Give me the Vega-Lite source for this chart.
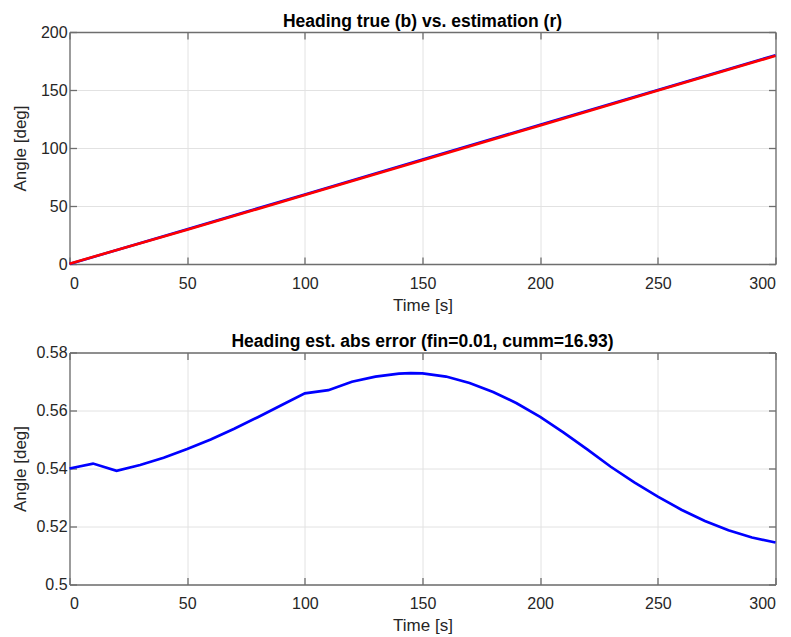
{
  "$schema": "https://vega.github.io/schema/vega-lite/v6.json",
  "background": "white",
  "padding": {"left": 10.5, "top": 12, "right": 5, "bottom": 0},
  "spacing": 19.5,
  "config": {
    "font": "Liberation Sans",
    "view": {"stroke": null},
    "axis": {
      "labelFontSize": 16,
      "labelColor": "#262626",
      "titleFontSize": 17,
      "titleFontWeight": "normal",
      "titleColor": "#262626",
      "domainColor": "#6e6e6e",
      "domainWidth": 1.3,
      "tickColor": "#6e6e6e",
      "tickWidth": 1.3,
      "tickSize": -7,
      "gridColor": "#e2e2e2",
      "gridWidth": 1
    },
    "title": {"fontSize": 17.5, "fontWeight": "bold", "color": "#000000", "baseline": "alphabetic", "offset": -6, "frame": "group", "anchor": "middle"}
  },
  "vconcat": [
    {
      "width": 706,
      "height": 232,
      "title": "Heading true (b) vs. estimation (r)",
      "data": {"values": [
        {"t": 0, "truth": 0, "est": 0.3},
        {"t": 50, "truth": 30, "est": 29.5},
        {"t": 100, "truth": 60, "est": 59.45},
        {"t": 150, "truth": 90, "est": 89.43},
        {"t": 200, "truth": 120, "est": 119.45},
        {"t": 250, "truth": 150, "est": 149.47},
        {"t": 300, "truth": 180, "est": 179.49}
      ]},
      "layer": [
        {
          "mark": {"type": "line", "color": "#0000ff", "strokeWidth": 2.6},
          "encoding": {
            "x": {"field": "t", "type": "quantitative", "scale": {"domain": [0, 300], "nice": false},
                  "axis": {"orient": "bottom", "values": [0, 50, 100, 150, 200, 250, 300], "title": "Time [s]", "labelPadding": 18.2, "titleY": 33, "titleBaseline": "top", "grid": true}},
            "y": {"field": "truth", "type": "quantitative", "scale": {"domain": [0, 200], "nice": false},
                  "axis": {"orient": "left", "values": [0, 50, 100, 150, 200], "title": "Angle [deg]", "labelPadding": 9.4, "titleX": -40.5, "grid": true}}
          }
        },
        {
          "mark": {"type": "line", "color": "#ff0000", "strokeWidth": 2.6},
          "encoding": {
            "x": {"field": "t", "type": "quantitative",
                  "axis": {"orient": "top", "values": [0, 50, 100, 150, 200, 250, 300], "labels": false, "title": null, "grid": false}},
            "y": {"field": "est", "type": "quantitative",
                  "axis": {"orient": "right", "values": [0, 50, 100, 150, 200], "labels": false, "title": null, "grid": false}}
          }
        }
      ],
      "resolve": {"axis": {"x": "independent", "y": "independent"}}
    },
    {
      "width": 706,
      "height": 232,
      "title": "Heading est. abs error (fin=0.01, cumm=16.93)",
      "data": {"values": [
        {"t": 0, "err": 0.5400},
        {"t": 10, "err": 0.5417},
        {"t": 20, "err": 0.5392},
        {"t": 30, "err": 0.5412},
        {"t": 40, "err": 0.5437},
        {"t": 50, "err": 0.5467},
        {"t": 60, "err": 0.5500},
        {"t": 70, "err": 0.5537},
        {"t": 80, "err": 0.5577},
        {"t": 90, "err": 0.5618},
        {"t": 100, "err": 0.5659},
        {"t": 110, "err": 0.5670},
        {"t": 120, "err": 0.5699},
        {"t": 130, "err": 0.5717},
        {"t": 140, "err": 0.5727},
        {"t": 145, "err": 0.5729},
        {"t": 150, "err": 0.5728},
        {"t": 160, "err": 0.5717},
        {"t": 170, "err": 0.5695},
        {"t": 180, "err": 0.5664},
        {"t": 190, "err": 0.5625},
        {"t": 200, "err": 0.5578},
        {"t": 210, "err": 0.5524},
        {"t": 220, "err": 0.5466},
        {"t": 230, "err": 0.5406},
        {"t": 240, "err": 0.5352},
        {"t": 250, "err": 0.5303},
        {"t": 260, "err": 0.5258},
        {"t": 270, "err": 0.5219},
        {"t": 280, "err": 0.5187},
        {"t": 290, "err": 0.5162},
        {"t": 300, "err": 0.5145}
      ]},
      "layer": [
        {
          "mark": {"type": "line", "color": "#0000ff", "strokeWidth": 2.7},
          "encoding": {
            "x": {"field": "t", "type": "quantitative", "scale": {"domain": [0, 300], "nice": false},
                  "axis": {"orient": "bottom", "values": [0, 50, 100, 150, 200, 250, 300], "title": "Time [s]", "labelPadding": 18.2, "titleY": 33, "titleBaseline": "top", "grid": true}},
            "y": {"field": "err", "type": "quantitative", "scale": {"domain": [0.5, 0.58], "nice": false, "zero": false},
                  "axis": {"orient": "left", "values": [0.5, 0.52, 0.54, 0.56, 0.58], "format": "~g", "title": "Angle [deg]", "labelPadding": 9.4, "titleX": -40.5, "grid": true}}
          }
        },
        {
          "mark": {"type": "line", "strokeOpacity": 0},
          "encoding": {
            "x": {"field": "t", "type": "quantitative",
                  "axis": {"orient": "top", "values": [0, 50, 100, 150, 200, 250, 300], "labels": false, "title": null, "grid": false}},
            "y": {"field": "err", "type": "quantitative",
                  "axis": {"orient": "right", "values": [0.5, 0.52, 0.54, 0.56, 0.58], "labels": false, "title": null, "grid": false}}
          }
        }
      ],
      "resolve": {"axis": {"x": "independent", "y": "independent"}}
    }
  ]
}
